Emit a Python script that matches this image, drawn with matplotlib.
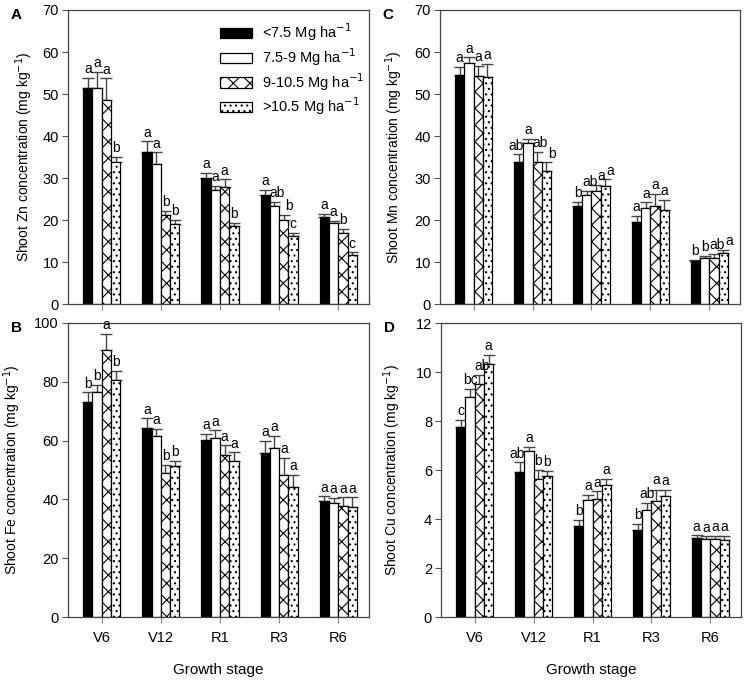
import matplotlib
matplotlib.use("Agg")
from matplotlib import pyplot as plt
import numpy as np

plt.rcParams['font.family'] = ['Liberation Sans', 'DejaVu Sans']
plt.rcParams['hatch.linewidth'] = 0.8

stages = ["V6", "V12", "R1", "R3", "R6"]
groups = ["<7.5 Mg ha$^{-1}$", "7.5-9 Mg ha$^{-1}$", "9-10.5 Mg ha$^{-1}$", ">10.5 Mg ha$^{-1}$"]

# mean values per group (rows) and stage (columns), plus top of error bar
zn_mean = [[51.5, 36.1, 29.9, 25.9, 20.6],
           [51.5, 33.3, 27.1, 23.3, 19.2],
           [48.6, 21.2, 27.9, 20.0, 16.8],
           [33.7, 19.0, 18.6, 16.2, 11.7]]
zn_top = [[53.9, 38.7, 31.3, 27.1, 21.4],
          [55.3, 36.1, 28.2, 24.4, 19.8],
          [53.7, 22.2, 29.7, 21.3, 17.8],
          [35.0, 20.0, 19.4, 17.0, 12.3]]
zn_letters = [["a", "a", "a", "a", "a"],
              ["a", "a", "a", "ab", "a"],
              ["a", "b", "a", "b", "b"],
              ["b", "b", "b", "c", "c"]]

fe_mean = [[73.0, 64.3, 60.1, 55.8, 39.6],
           [76.4, 61.5, 60.8, 57.6, 38.8],
           [90.9, 49.0, 55.1, 48.3, 37.6],
           [80.7, 51.2, 53.2, 44.2, 37.3]]
fe_top = [[76.4, 67.6, 62.2, 59.8, 41.0],
          [79.0, 63.9, 63.5, 61.6, 40.4],
          [96.3, 51.8, 58.4, 54.0, 40.7],
          [83.8, 53.2, 56.0, 48.3, 40.7]]
fe_letters = [["b", "a", "a", "a", "a"],
              ["b", "a", "a", "a", "a"],
              ["a", "b", "a", "a", "a"],
              ["b", "b", "a", "a", "a"]]

mn_mean = [[54.5, 33.9, 23.4, 19.5, 10.2],
           [57.3, 38.3, 25.9, 22.8, 11.0],
           [54.3, 33.7, 27.0, 23.3, 10.9],
           [54.0, 31.7, 28.1, 22.5, 12.2]]
mn_top = [[56.5, 35.6, 24.4, 21.0, 10.6],
          [58.7, 39.4, 26.9, 24.2, 11.4],
          [56.7, 36.3, 28.3, 26.3, 11.9],
          [57.1, 33.7, 29.7, 24.8, 12.9]]
mn_letters = [["a", "ab", "b", "a", "b"],
              ["a", "a", "ab", "a", "b"],
              ["a", "ab", "a", "a", "ab"],
              ["a", "b", "a", "a", "a"]]

cu_mean = [[7.74, 5.92, 3.70, 3.54, 3.21],
           [9.00, 6.76, 4.79, 4.38, 3.18],
           [9.52, 5.62, 4.82, 4.75, 3.19],
           [10.34, 5.77, 5.39, 4.93, 3.16]]
cu_top = [[8.05, 6.31, 3.95, 3.80, 3.33],
          [9.31, 6.93, 4.98, 4.65, 3.29],
          [9.86, 6.00, 5.13, 5.20, 3.32],
          [10.70, 5.95, 5.63, 5.20, 3.32]]
cu_letters = [["c", "ab", "b", "b", "a"],
              ["bc", "a", "a", "ab", "a"],
              ["ab", "b", "a", "a", "a"],
              ["a", "b", "a", "a", "a"]]

colors = ["black", "white", "white", "white"]
hatches = [None, None, "xx", "..."]
width = 0.157
x = np.arange(1, len(stages) + 1)

fig = plt.figure(figsize=(7.45, 6.8), dpi=100)

panels = [
    ("A", [0.0913, 0.5529, 0.4040, 0.4324], zn_mean, zn_top, zn_letters, 70, 10, "Shoot Zn concentration (mg kg$^{-1}$)", -0.11),
    ("B", [0.0913, 0.0926, 0.4040, 0.4324], fe_mean, fe_top, fe_letters, 100, 20, "Shoot Fe concentration (mg kg$^{-1}$)", -0.148),
    ("C", [0.5906, 0.5529, 0.4027, 0.4324], mn_mean, mn_top, mn_letters, 70, 10, "Shoot Mn concentration (mg kg$^{-1}$)", -0.117),
    ("D", [0.5920, 0.0926, 0.4027, 0.4324], cu_mean, cu_top, cu_letters, 12, 2, "Shoot Cu concentration (mg kg$^{-1}$)", -0.127),
]

letter_texts = []  # (axes, [texts of one stage, left to right])

for tag, rect, means, tops, letters, ymax, ystep, ylab, ylab_x in panels:
    ax = fig.add_axes(rect)
    stage_texts = [[] for _ in stages]
    for i in range(4):
        pos = x + (i - 1.5) * width
        m = np.array(means[i])
        t = np.array(tops[i])
        ax.bar(pos, m, width, color=colors[i], edgecolor="black", linewidth=0.9,
               hatch=hatches[i], label=groups[i], zorder=2)
        ax.errorbar(pos, m, yerr=[np.zeros(len(m)), t - m], fmt="none",
                    ecolor="#444444", elinewidth=1.0, capsize=4.5, capthick=1.0, zorder=1)
        for j, (xi, ti, lab) in enumerate(zip(pos, t, letters[i])):
            # two-letter marks on the outer bars pushed a little outwards
            nudge = 0.0
            if len(lab) > 1 and i == 0:
                nudge = -0.04
            elif len(lab) > 1 and i >= 2:
                nudge = 0.05
            txt = ax.text(xi + nudge, ti + ymax * 0.006, lab, ha="center", va="bottom", fontsize=10)
            stage_texts[j].append(txt)
    for st in stage_texts:
        letter_texts.append((ax, st))
    ax.set_xlim(0.43, 5.52)
    ax.set_ylim(0, ymax)
    ax.set_yticks(np.arange(0, ymax + ystep, ystep))
    ax.set_xticks(x)
    if tag in ("B", "D"):
        ax.set_xticklabels(stages, fontsize=10.5)
        ax.set_xlabel("Growth stage", fontsize=11, labelpad=13)
    else:
        ax.set_xticklabels([])
    ax.tick_params(axis="y", labelsize=10.5, direction="out", length=4, pad=2.5, color="#555555")
    ax.tick_params(axis="x", direction="out", length=4, pad=6, color="#888888")
    for s in ax.spines.values():
        s.set_color("#444444")
        s.set_linewidth(0.9)
    ax.set_ylabel(ylab, fontsize=10)
    ax.yaxis.set_label_coords(ylab_x, 0.5)
    fig.text(rect[0] - 0.077, rect[1] + rect[3] - 0.008, tag, fontsize=11, fontweight="bold",
             ha="left", va="center")
    if tag == "A":
        ax.legend(loc="upper left", frameon=False, fontsize=10.5, handlelength=2.2,
                  handleheight=0.7, handletextpad=0.7, labelspacing=0.2, borderpad=0,
                  borderaxespad=0, bbox_to_anchor=(0.505, 0.96))

# nudge letters that would collide with their left neighbour:
# lower ones go sideways, higher ones up or sideways, whichever is less
fig.canvas.draw()
renderer = fig.canvas.get_renderer()
for ax, st in letter_texts:
    prev = None
    for txt in st:
        bb = txt.get_window_extent(renderer)
        if prev is not None:
            ox = prev.x1 - bb.x0
            oy = min(prev.y1 - bb.y0, bb.y1 - prev.y0)
            if ox > 0.3 and oy > 0.3:
                if bb.y0 < prev.y0 or ox <= prev.y1 - bb.y0:
                    dx, dy = ox + 0.5, 0
                else:
                    dx, dy = 0, prev.y1 - bb.y0 + 0.5
                x0, y0 = txt.get_position()
                px = ax.transData.transform((x0, y0))
                new = ax.transData.inverted().transform((px[0] + dx, px[1] + dy))
                txt.set_position((new[0], new[1]))
                bb = txt.get_window_extent(renderer)
        prev = bb

plt.savefig("out.png", dpi=100)
